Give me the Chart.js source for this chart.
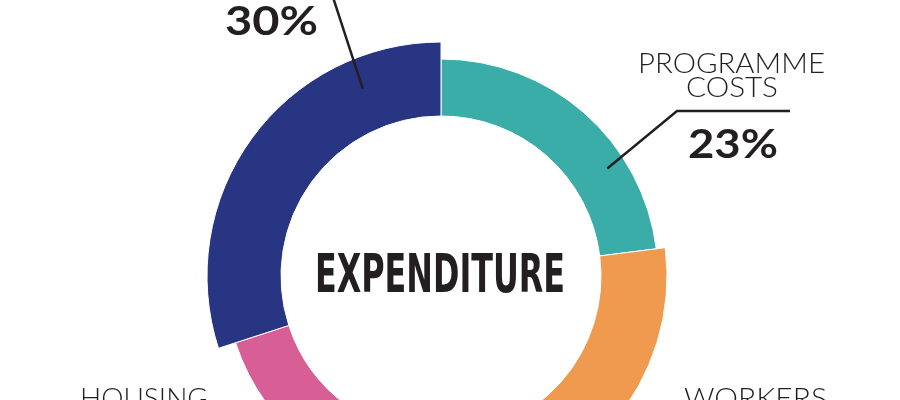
<!DOCTYPE html>
<html>
<head>
<meta charset="utf-8">
<script src="https://cdn.jsdelivr.net/npm/chart.js@4"></script>
<style>
  html, body { margin: 0; padding: 0; background: #fff; overflow: hidden; }
  #wrap { position: absolute; left: 0; top: 0; width: 900px; height: 552px; }
</style>
</head>
<body>
<div id="wrap"><canvas id="grafico"></canvas></div>
<script>
// dados
const categorias = ['Programme costs', 'Workers', 'Housing', 'Other'];
const valores = [23, 27, 20, 30];
const cores = ['#3aada8', '#ef9a4e', '#d85e96', '#283583'];

// estilo: raio externo de cada fatia (px) e raio interno
const raiosExternos = [217, 226, 216, 234];
const raioInterno = 160;

const corTexto = '#231f20';

// desenha texto ajustando largura (escala horizontal)
function textoAjustado(ctx, texto, x, yBase, largura, fonte, alinhamento) {
    ctx.save();
    ctx.font = fonte;
    ctx.fillStyle = corTexto;
    ctx.textBaseline = 'alphabetic';
    const w = ctx.measureText(texto).width;
    const sx = largura / w;
    let x0 = x;
    if (alinhamento === 'center') x0 = x - largura / 2;
    ctx.translate(x0, yBase);
    ctx.scale(sx, 1);
    ctx.textAlign = 'left';
    ctx.fillText(texto, 0, 0);
    ctx.restore();
}

// ponto sobre a fatia: fração do ângulo da fatia e raio
function pontoNaFatia(arc, frac, r) {
    const a = arc.startAngle + (arc.endAngle - arc.startAngle) * frac;
    return { x: arc.x + Math.cos(a) * r, y: arc.y + Math.sin(a) * r };
}

const raioPlugin = {
    id: 'raioPlugin',
    afterDatasetsUpdate(chart) {
        const meta = chart.getDatasetMeta(0);
        meta.data.forEach((arc, i) => {
            arc.outerRadius = raiosExternos[i];
            arc.innerRadius = raioInterno;
        });
    }
};

const rotulosPlugin = {
    id: 'rotulosPlugin',
    afterDraw(chart) {
        const ctx = chart.ctx;
        const arcs = chart.getDatasetMeta(0).data;

        ctx.save();
        ctx.strokeStyle = corTexto;
        ctx.lineWidth = 2.5;
        ctx.lineCap = 'butt';

        // linha da fatia "Programme costs"
        const p1 = pontoNaFatia(arcs[0], 0.69, 198);
        ctx.beginPath();
        ctx.moveTo(p1.x, p1.y);
        ctx.lineTo(677, 111);
        ctx.lineTo(790, 111);
        ctx.stroke();

        // linha da fatia de 30%
        const p2 = pontoNaFatia(arcs[3], 0.79, 203);
        ctx.beginPath();
        ctx.moveTo(p2.x, p2.y);
        ctx.lineTo(329, -15);
        ctx.stroke();
        ctx.restore();

        const leve = '300 28px Lato, "Open Sans", sans-serif';
        const forte = '700 40px Lato, "Open Sans", sans-serif';

        textoAjustado(ctx, 'PROGRAMME', 638, 73, 187, leve);
        textoAjustado(ctx, 'COSTS', 732, 97, 92, leve, 'center');
        textoAjustado(ctx, valores[0] + '%', 688, 158, 90, forte);
        textoAjustado(ctx, valores[3] + '%', 225, 35, 93, forte);

        textoAjustado(ctx, 'WORKERS', 684, 408, 143, leve);
        textoAjustado(ctx, 'HOUSING', 80, 408, 128, leve);

        textoAjustado(ctx, 'EXPENDITURE', 440, 292, 250,
            'bold 54px "Liberation Sans Narrow", "DejaVu Sans Condensed", "Roboto", sans-serif', 'center');
    }
};

const grafico = document.getElementById('grafico');

new Chart(grafico, {
    type: 'doughnut',
    data: {
        labels: categorias,
        datasets: [{
            data: valores,
            backgroundColor: cores,
            borderColor: '#ffffff',
            borderWidth: 1
        }]
    },
    options: {
        responsive: true,
        maintainAspectRatio: false,
        animation: false,
        events: [],
        cutout: raioInterno,
        radius: 234,
        layout: { padding: { right: 18 } },
        plugins: {
            legend: { display: false },
            tooltip: { enabled: false }
        }
    },
    plugins: [raioPlugin, rotulosPlugin]
});
</script>
</body>
</html>
